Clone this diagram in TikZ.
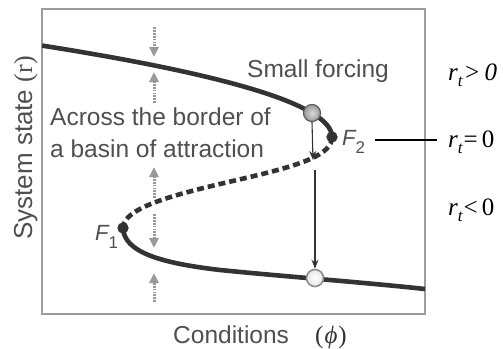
\documentclass[tikz,border=0pt]{standalone}
\usepackage[no-math]{fontspec}
\setmainfont{Liberation Sans}
\newfontfamily\serifrm{Liberation Serif}
\usetikzlibrary{arrows.meta}
\definecolor{curvecol}{HTML}{333333}
\definecolor{boxgray}{HTML}{9C9C9C}
\definecolor{txtgray}{HTML}{4F4F4F}
\definecolor{arrgray}{HTML}{999999}
\tikzset{
  branch/.style={draw=curvecol, line width=4.6pt},
  unstable/.style={branch, dash pattern=on 7pt off 4pt},
  fdot/.style={circle, fill=curvecol, inner sep=0pt, minimum size=11pt},
  grayball/.style={circle, draw=curvecol!80, line width=1.2pt, inner sep=0pt, minimum size=17pt, inner color=gray!30, outer color=gray!80},
  whiteball/.style={circle, draw=gray!90, line width=1.6pt, inner sep=0pt, minimum size=17pt, inner color=white, outer color=gray!20},
  thinarrow/.style={draw=curvecol, line width=1.1pt, -{Stealth[width=7pt,length=9pt]}},
  grayarrow/.style={draw=arrgray, line width=3pt, dash pattern=on 1.8pt off 1.1pt, -{Triangle[width=9pt,length=10pt]}},
  lbl/.style={inner sep=0pt, text=txtgray, font=\fontsize{24.5}{29}\selectfont},
  rlbl/.style={inner sep=0pt, text=black, font=\serifrm\fontsize{25}{29}\selectfont},
}
\begin{document}
\begin{tikzpicture}[x=1pt,y=-1pt]
\useasboundingbox (0,0) rectangle (503,348);
% frame
\draw[boxgray, line width=2.4pt] (42,9) rectangle (425,314);
% fold points
\node[fdot] (F2) at (332,137) {};
\node[fdot] (F1) at (123,228) {};
% upper stable branch
\draw[branch] plot[domain=45.6:137, samples=60, smooth] ({332-0.0347*(137-\x)^2}, \x);
% unstable branch
\draw[unstable] (F2.center) .. controls (332,155) and (300,165) .. (250,177)
                            .. controls (190,191) and (123,205) .. (F1.center);
% lower stable branch
\draw[branch] (F1.center) .. controls (124,252) and (160,263) .. (220,270)
                          .. controls (290,277) and (360,282) .. (425,289);
\node[fdot] at (F2) {};
\node[fdot] at (F1) {};
% balls
\node[grayball] (ball) at (312,113) {};
\node[whiteball] (wball) at (315,278) {};
% forcing arrows
\coordinate (cross) at (313,160);
\coordinate (below) at (315,170);
\draw[thinarrow] (ball.south) -- (cross);
\draw[thinarrow] (below) -- (wball.north);
% gray attraction arrows
\coordinate (a1s) at (154,27);  \coordinate (a1e) at (154,57);
\coordinate (a2s) at (154,103); \coordinate (a2e) at (154,72);
\coordinate (a3s) at (154,198); \coordinate (a3e) at (154,167);
\coordinate (a4s) at (154,214); \coordinate (a4e) at (154,248);
\coordinate (a5s) at (154,302); \coordinate (a5e) at (154,273);
\draw[grayarrow] (a1s) -- (a1e);
\draw[grayarrow] (a2s) -- (a2e);
\draw[grayarrow] (a3s) -- (a3e);
\draw[grayarrow] (a4s) -- (a4e);
\draw[grayarrow] (a5s) -- (a5e);
% texts
\node[lbl, anchor=base west] (small) at (247,77) {Small forcing};
\node[lbl, anchor=base west] (across) at (50,125) {Across the border of};
\node[lbl, anchor=base west] (basin) at (50,157) {a basin of attraction};
\node[lbl, anchor=base west] (F2lab) at (342,145) {\fontsize{22}{22}\selectfont\itshape F\raisebox{-8pt}{\fontsize{17}{17}\selectfont\upshape 2}};
\node[lbl, anchor=base west] (F1lab) at (95,240) {\fontsize{22}{22}\selectfont\itshape F\raisebox{-8pt}{\fontsize{17}{17}\selectfont\upshape 1}};
\node[lbl, rotate=90, anchor=base west, font=\fontsize{26}{30}\selectfont] (ylab) at (32,240) {System state {\serifrm (r)}};
\node[lbl, anchor=base west] (xlab) at (173,343) {Conditions};
\node[lbl, anchor=base west, font=\serifrm\fontsize{25}{29}\selectfont, text=curvecol] (phi) at (315,343) {(\kern1pt{\itshape ϕ}\kern1pt)};
% right labels
\node[rlbl, anchor=base west] (rgt) at (448,80) {\itshape r\raisebox{-6pt}{\fontsize{17}{17}\selectfont t}\kern1pt>\,0};
\node[rlbl, anchor=base west] (req) at (448,147) {\itshape r\raisebox{-6pt}{\fontsize{17}{17}\selectfont t}\kern1pt\upshape=\,0};
\node[rlbl, anchor=base west] (rlt) at (448,215) {\itshape r\raisebox{-6pt}{\fontsize{17}{17}\selectfont t}\kern1pt\upshape<\,0};
\coordinate (lineL) at (375,140);
\coordinate (lineR) at (437,140);
\draw[black, line width=1.1pt] (lineL) -- (lineR);
\end{tikzpicture}
\end{document}
